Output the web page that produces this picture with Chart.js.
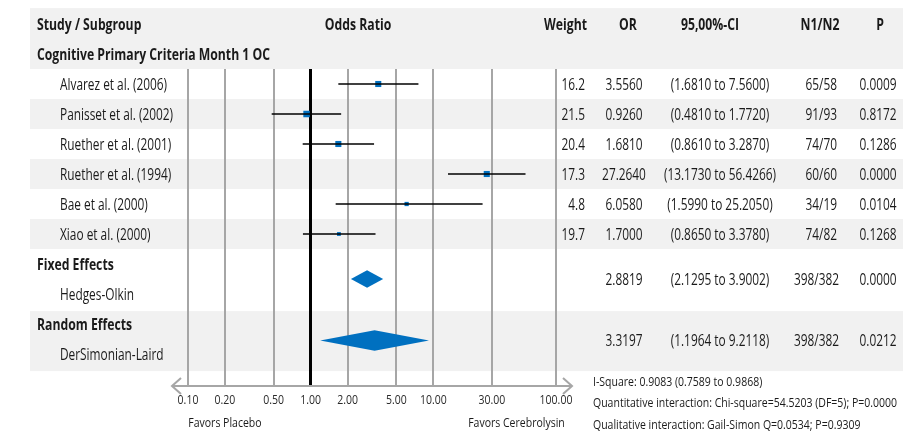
<!DOCTYPE html>
<html>
<head>
<meta charset="utf-8">
<script src="https://cdn.jsdelivr.net/npm/chart.js@4.4.0/dist/chart.umd.min.js"></script>
<style>
  html, body { margin: 0; padding: 0; background: #fff; }
  #wrap { width: 903px; height: 432px; }
</style>
</head>
<body>
<div id="wrap"><canvas id="forest"></canvas></div>
<script>
// study level data
const studies = ["Alvarez et al. (2006)", "Panisset et al. (2002)", "Ruether et al. (2001)",
                 "Ruether et al. (1994)", "Bae et al. (2000)", "Xiao et al. (2000)"];
const orVals = [3.556, 0.926, 1.681, 27.264, 6.058, 1.7];
const ciLow = [1.681, 0.481, 0.861, 13.173, 1.599, 0.865];
const ciHigh = [7.56, 1.772, 3.287, 56.4266, 25.205, 3.378];
const weights = [16.2, 21.5, 20.4, 17.3, 4.8, 19.7];
const n1n2 = ["65/58", "91/93", "74/70", "60/60", "34/19", "74/82"];
const pVals = ["0.0009", "0.8172", "0.1286", "0.0000", "0.0104", "0.1268"];

// pooled estimates
const poolGroups = ["Fixed Effects", "Random Effects"];
const poolMethods = ["Hedges-Olkin", "DerSimonian-Laird"];
const poolOR = [2.8819, 3.3197];
const poolLow = [2.1295, 1.1964];
const poolHigh = [3.9002, 9.2118];
const poolN = ["398/382", "398/382"];
const poolP = ["0.0000", "0.0212"];

const tickValues = [0.1, 0.2, 0.5, 1, 2, 5, 10, 30, 100];
const footNotes = ["I-Square: 0.9083 (0.7589 to 0.9868)",
  "Quantitative interaction: Chi-square=54.5203 (DF=5); P=0.0000",
  "Qualitative interaction: Gail-Simon Q=0.0534; P=0.9309"];

const FONT = "'Open Sans', 'Liberation Sans', sans-serif";
const BLUE = "#0070c0";
const BAND = "#f1f1f1";
const TXT = "#1a1a1a";

// row positions (y scale units, one row per study)
const poolRowY = [6.5, 8.55];
const poolHalf = [0.29, 0.34];

// text styles; the horizontal squeeze mimics the condensed face of the original
const REG = {font: "16px " + FONT, sample: "Alvarez et al. (2006)", target: 107};
const BOLD = {font: "bold 16px " + FONT, sample: "Cognitive Primary Criteria Month 1 OC", target: 233};
const SMALL = {font: "13.5px " + FONT, sample: footNotes[1], target: 304};

let datasets = [];
studies.forEach((s, i) => {
  datasets.push({
    type: "line",
    data: [{x: ciLow[i], y: i}, {x: ciHigh[i], y: i}],
    borderColor: "#000",
    borderWidth: 1.5,
    pointRadius: 0
  });
});
datasets.push({
  type: "scatter",
  data: orVals.map((v, i) => ({x: v, y: i})),
  pointStyle: "rect",
  pointRadius: [4.3, 4.6, 4.3, 4.3, 3.0, 2.7],
  backgroundColor: BLUE,
  borderWidth: 0
});
poolOR.forEach((v, k) => {
  const yy = poolRowY[k], h = poolHalf[k];
  datasets.push({
    type: "line",
    data: [{x: poolLow[k], y: yy}, {x: v, y: yy - h}, {x: poolHigh[k], y: yy}, {x: v, y: yy + h}, {x: poolLow[k], y: yy}],
    borderColor: BLUE,
    borderWidth: 0,
    backgroundColor: BLUE,
    fill: "shape",
    pointRadius: 0,
    tension: 0
  });
});

function txt(ctx, s, x, y, align, st, color) {
  ctx.font = st.font;
  if (!st.k) st.k = st.target / ctx.measureText(st.sample).width;
  const w = ctx.measureText(s).width * st.k;
  const x0 = align === "left" ? x : align === "right" ? x - w : x - w / 2;
  ctx.save();
  ctx.translate(x0, y);
  ctx.scale(st.k, 1);
  ctx.textAlign = "left";
  ctx.textBaseline = "middle";
  ctx.fillStyle = color || TXT;
  ctx.fillText(s, 0, 0);
  ctx.restore();
}

const tablePlugin = {
  id: "table",
  beforeDraw(chart) {
    const ctx = chart.ctx, ys = chart.scales.y;
    const band = (a, b) => {
      const t = ys.getPixelForValue(a);
      ctx.fillRect(30, t, chart.width - 30, ys.getPixelForValue(b) - t);
    };
    ctx.save();
    ctx.fillStyle = "#fff";
    ctx.fillRect(0, 0, chart.width, chart.height);
    ctx.fillStyle = BAND;
    band(-2.53, -0.5);
    studies.forEach((s, i) => { if (i % 2 == 1) band(i - 0.5, i + 0.5); });
    band(7.57, 9.57);
    ctx.restore();
  },
  afterDraw(chart) {
    const ctx = chart.ctx, ys = chart.scales.y, xs = chart.scales.x;
    const py = v => ys.getPixelForValue(v) + 1;
    ctx.save();
    // header
    txt(ctx, "Study / Subgroup", 37, py(-2), "left", BOLD);
    txt(ctx, "Odds Ratio", 358, py(-2), "center", BOLD);
    txt(ctx, "Weight", 587, py(-2), "right", BOLD);
    txt(ctx, "OR", 628, py(-2), "center", BOLD);
    txt(ctx, "95,00%-CI", 710, py(-2), "center", BOLD);
    txt(ctx, "N1/N2", 820, py(-2), "center", BOLD);
    txt(ctx, "P", 880, py(-2), "center", BOLD);
    txt(ctx, "Cognitive Primary Criteria Month 1 OC", 37, py(-1), "left", BOLD);
    // studies
    studies.forEach((s, i) => {
      const yy = py(i);
      txt(ctx, s, 60, yy, "left", REG);
      txt(ctx, weights[i].toFixed(1), 585, yy, "right", REG);
      txt(ctx, orVals[i].toFixed(4), 624, yy, "center", REG);
      txt(ctx, "(" + ciLow[i].toFixed(4) + " to " + ciHigh[i].toFixed(4) + ")", 720, yy, "center", REG);
      txt(ctx, n1n2[i], 837, yy, "right", REG);
      txt(ctx, pVals[i], 878, yy, "center", REG);
    });
    // pooled
    poolGroups.forEach((g, k) => {
      const base = 6 + 2 * k;
      txt(ctx, g, 37, py(base), "left", BOLD);
      txt(ctx, poolMethods[k], 60, py(base + 1), "left", REG);
      const yy = py(poolRowY[k]);
      txt(ctx, poolOR[k].toFixed(4), 624, yy, "center", REG);
      txt(ctx, "(" + poolLow[k].toFixed(4) + " to " + poolHigh[k].toFixed(4) + ")", 720, yy, "center", REG);
      txt(ctx, poolN[k], 839, yy, "right", REG);
      txt(ctx, poolP[k], 878, yy, "center", REG);
    });
    // axis line with arrows
    const ay = chart.chartArea.bottom;
    const l = xs.left - 16, r = xs.right + 16;
    ctx.strokeStyle = "#a6a6a6";
    ctx.lineWidth = 2;
    ctx.beginPath();
    ctx.moveTo(l, ay); ctx.lineTo(r, ay);
    ctx.moveTo(l + 9, ay - 8); ctx.lineTo(l, ay); ctx.lineTo(l + 9, ay + 8);
    ctx.moveTo(r - 9, ay - 8); ctx.lineTo(r, ay); ctx.lineTo(r - 9, ay + 8);
    ctx.stroke();
    // tick labels from the log scale
    xs.ticks.forEach(t => {
      txt(ctx, Number(t.value).toFixed(2), xs.getPixelForValue(t.value), ay + 14, "center", SMALL, "#2a2a2a");
    });
    // favors labels
    txt(ctx, "Favors Placebo", xs.getPixelForValue(0.2), 423, "center", SMALL);
    txt(ctx, "Favors Cerebrolysin", xs.getPixelForValue(47.6), 423, "center", SMALL);
    // notes
    footNotes.forEach((f, i) => txt(ctx, f, 593, 382 + 21.5 * i, "left", SMALL));
    ctx.restore();
  }
};

new Chart(document.getElementById("forest"), {
  data: { datasets: datasets },
  options: {
    responsive: true,
    maintainAspectRatio: false,
    animation: false,
    layout: { padding: { left: 188, right: 347, top: 69, bottom: 16 } },
    plugins: { legend: { display: false }, tooltip: { enabled: false } },
    scales: {
      x: {
        type: "logarithmic",
        min: 0.1,
        max: 100,
        afterBuildTicks: s => { s.ticks = tickValues.map(v => ({value: v})); },
        afterFit: s => { s.height = 30; },
        border: { display: false },
        grid: {
          drawTicks: false,
          color: c => (c.tick && c.tick.value === 1) ? "#000" : "#a6a6a6",
          lineWidth: c => (c.tick && c.tick.value === 1) ? 3 : 2
        },
        ticks: { display: false, autoSkip: false }
      },
      y: {
        type: "linear",
        display: false,
        reverse: true,
        min: -0.5,
        max: 10.0667
      }
    }
  },
  plugins: [tablePlugin]
});
</script>
</body>
</html>
